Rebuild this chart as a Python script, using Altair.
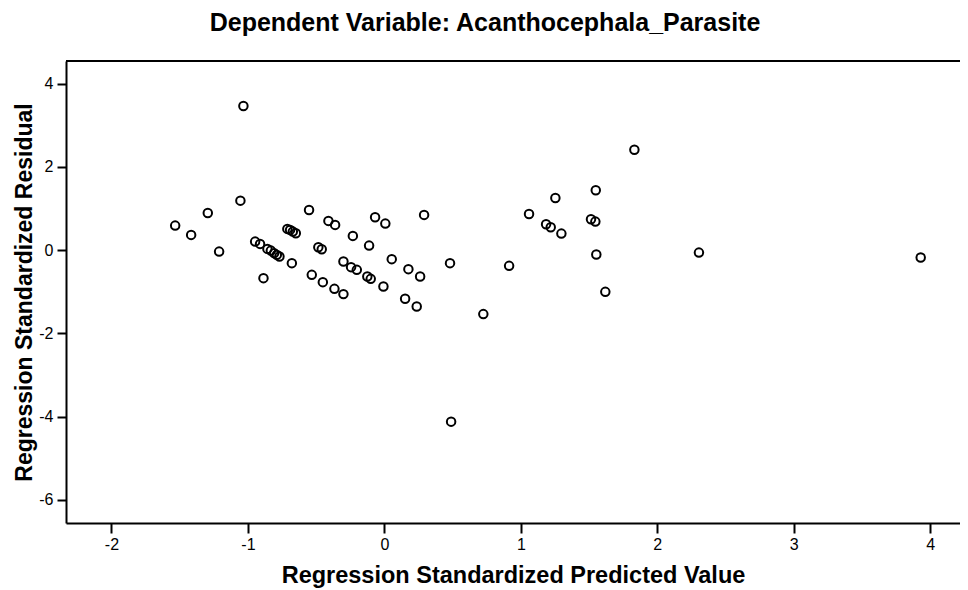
import altair as alt
import pandas as pd

# Regression standardized predicted value (x) and standardized residual (y)
pred = [-1.533, -1.416, -1.294, -1.211, -1.055, -1.033, -0.947, -0.911, -0.886, -0.857,
        -0.832, -0.808, -0.788, -0.769, -0.711, -0.691, -0.671, -0.649, -0.678, -0.552,
        -0.484, -0.459, -0.532, -0.451, -0.366, -0.300, -0.410, -0.361, -0.231, -0.112,
        -0.300, -0.244, -0.202, -0.125, -0.100, -0.068, 0.007, -0.007, 0.054, 0.176,
        0.262, 0.152, 0.237, 0.291, 0.481, 0.489, 0.725, 0.914, 1.060, 1.185,
        1.219, 1.253, 1.297, 1.514, 1.546, 1.549, 1.553, 1.619, 1.832, 2.305,
        3.930]
resid = [0.590, 0.367, 0.895, -0.034, 1.190, 3.463, 0.206, 0.151, -0.672, 0.031,
         -0.010, -0.072, -0.113, -0.154, 0.511, 0.487, 0.446, 0.408, -0.312, 0.967,
         0.072, 0.024, -0.593, -0.768, -0.929, -1.056, 0.703, 0.607, 0.343, 0.110,
         -0.274, -0.408, -0.473, -0.634, -0.689, 0.792, 0.638, -0.874, -0.216, -0.456,
         -0.634, -1.169, -1.354, 0.847, -0.312, -4.120, -1.536, -0.377, 0.871, 0.624,
         0.552, 1.255, 0.398, 0.744, 0.686, 1.440, -0.106, -1.001, 2.414, -0.058,
         -0.178]

x_ticks = [-2, -1, 0, 1, 2, 3, 4]
y_ticks = [-6, -4, -2, 0, 2, 4]

df = pd.DataFrame({"pred": pred, "resid": resid})

W, H = 894, 462
FONT = "Liberation Sans"

points = alt.Chart(df).mark_point(
    shape="circle", filled=False, color="black", size=72, strokeWidth=2, opacity=1
).encode(
    x=alt.X("pred:Q",
            scale=alt.Scale(domain=[-2.333, 4.218], nice=False, zero=False),
            axis=alt.Axis(title="Regression Standardized Predicted Value",
                          values=x_ticks, labelExpr="datum.value + ''",
                          tickSize=10, labelPadding=3, titlePadding=11,
                          labelFontSize=16, titleFontSize=23.5)),
    y=alt.Y("resid:Q",
            scale=alt.Scale(domain=[-6.555, 4.545], nice=False, zero=False),
            axis=alt.Axis(title="Regression Standardized Residual",
                          values=y_ticks, labelExpr="datum.value + ''",
                          tickSize=9, labelPadding=4, titlePadding=2,
                          labelFontSize=16, titleFontSize=23)),
)

top = alt.Chart(alt.Data(values=[{"a": 1}])).mark_rule(
    color="black", strokeWidth=2
).encode(x=alt.value(0), x2=alt.value(W), y=alt.value(0))

chart = alt.layer(points, top).properties(
    width=W, height=H,
    title=alt.TitleParams(
        text="Dependent Variable: Acanthocephala_Parasite",
        font=FONT, fontSize=25, fontWeight="bold", color="black",
        anchor="middle", dx=-28, offset=24,
    ),
    padding={"left": 58, "top": 53, "right": 0, "bottom": 66},
    autosize=alt.AutoSizeParams(type="none"),
    background="white",
).configure_view(stroke=None).configure_axis(
    grid=False,
    domainColor="black", domainWidth=2,
    tickColor="black", tickWidth=2,
    labelFont=FONT, labelColor="black",
    titleFont=FONT, titleFontWeight="bold", titleColor="black",
)

chart.save("out.html", embed_options={"renderer": "svg", "actions": False})
